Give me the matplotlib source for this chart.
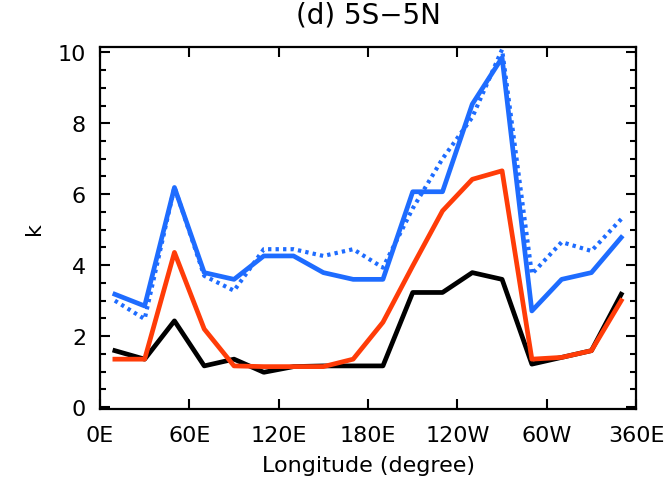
import matplotlib
matplotlib.use("Agg")
import matplotlib.pyplot as plt
from matplotlib.ticker import MultipleLocator

# longitude of each box centre (degrees east)
lon = [10, 30, 50, 70, 90, 110, 130, 150, 170, 190, 210, 230, 250, 270, 290, 310, 330, 350]

blue_solid = [3.18, 2.85, 6.19, 3.79, 3.60, 4.26, 4.26, 3.79, 3.60, 3.60,
              6.07, 6.07, 8.54, 9.85, 2.71, 3.60, 3.79, 4.78]
blue_dot = [3.00, 2.48, 6.20, 3.70, 3.28, 4.45, 4.45, 4.26, 4.45, 3.93,
            5.60, 7.00, 8.17, 10.08, 3.75, 4.65, 4.40, 5.30]
red = [1.35, 1.35, 4.36, 2.20, 1.16, 1.14, 1.14, 1.14, 1.35, 2.39,
       3.98, 5.53, 6.42, 6.66, 1.35, 1.40, 1.59, 3.00]
black = [1.59, 1.35, 2.43, 1.16, 1.35, 0.98, 1.14, 1.16, 1.16, 1.16,
         3.23, 3.23, 3.79, 3.60, 1.21, 1.40, 1.59, 3.18]

xticks = [0, 60, 120, 180, 240, 300, 360]
xticklabels = ["0E", "60E", "120E", "180E", "120W", "60W", "360E"]

fig = plt.figure(figsize=(6.71, 4.85), dpi=100)
ax = fig.add_axes([0.149, 0.155, 0.799, 0.746])

blue = "#1e6cff"
orange = "#ff3c08"

ax.plot(lon, blue_dot, color=blue, lw=3.0, linestyle=(0, (0.8, 1.0)))
ax.plot(lon, blue_solid, color=blue, lw=3.4)
ax.plot(lon, black, color="black", lw=3.4)
ax.plot(lon, red, color=orange, lw=3.4)

ax.set_xlim(0, 360)
ax.set_ylim(-0.05, 10.15)
ax.set_xticks(xticks)
ax.set_xticklabels(xticklabels)
ax.yaxis.set_major_locator(MultipleLocator(2))
ax.yaxis.set_minor_locator(MultipleLocator(0.5))

ax.tick_params(which="both", direction="in", top=True, right=True,
               labelsize=16, width=1.5)
ax.tick_params(which="major", length=7)
ax.tick_params(axis="x", which="major", pad=12)
ax.tick_params(axis="y", which="major", pad=10)
ax.tick_params(which="minor", length=4)
for s in ax.spines.values():
    s.set_linewidth(1.6)

ax.set_title("(d) 5S\u22125N", fontsize=20, pad=18)
ax.set_xlabel("Longitude (degree)", fontsize=16, labelpad=7)
ax.set_ylabel("k", fontsize=16, labelpad=10)

fig.savefig("out.png", dpi=100)
